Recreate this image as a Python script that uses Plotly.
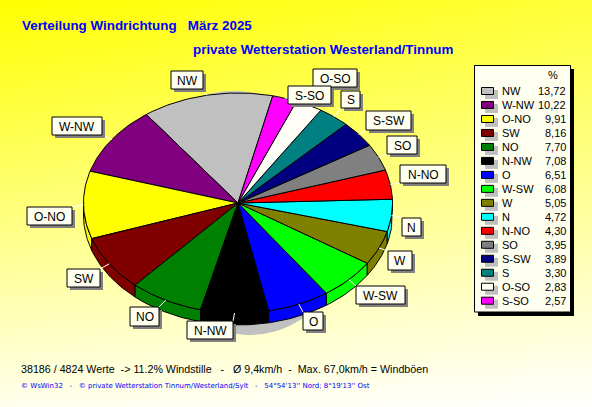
import numpy as np
import plotly.graph_objects as go

names = ["NW","W-NW","O-NO","SW","NO","N-NW","O","W-SW","W","N","N-NO","SO","S-SW","S","O-SO","S-SO"]
values = [13.72,10.22,9.91,8.16,7.70,7.08,6.51,6.08,5.05,4.72,4.30,3.95,3.89,3.30,2.83,2.57]
colors = ["#C0C0C0","#800080","#FFFF00","#800000","#008000","#000000","#0000FF","#00FF00",
          "#808000","#00FFFF","#FF0000","#808080","#000080","#008080","#FFFFF8","#FF00FF"]
title1 = "Verteilung Windrichtung\u00a0\u00a0\u00a0März 2025"
title2 = "private Wetterstation Westerland/Tinnum"
foot1 = "38186 / 4824 Werte\u00a0\u00a0-> 11.2% Windstille\u00a0\u00a0\u00a0-\u00a0\u00a0\u00a0Ø 9,4km/h\u00a0\u00a0-\u00a0\u00a0Max. 67,0km/h = Windböen"
foot2 = "© WsWin32\u00a0\u00a0\u00a0-\u00a0\u00a0\u00a0© private Wetterstation Tinnum/Westerland/Sylt\u00a0\u00a0\u00a0-\u00a0\u00a0\u00a054°54'13'' Nord; 8°19'13'' Ost"

# label box geometry (layout only)
boxes = {
 "NW":(171,71,203,89),"W-NW":(52,117,102,135),"O-NO":(27,207,72,225),"SW":(67,269,100,287),
 "NO":(130,307,159,326),"N-NW":(187,321,233,339),"O-SO":(313,69,357,87),"S-SO":(288,86,331,104),
 "S":(341,91,360,108),"S-SW":(366,111,411,130),"SO":(387,136,417,154),"N-NO":(400,165,446,183),
 "N":(402,218,421,236),"W":(388,251,412,270),"W-SW":(356,286,405,304),"O":(303,312,323,330)}

CX, CY, RX, RY, DEPTH, START = 238, 203, 154.5, 110, 12, 77
W, H = 592, 407

def ex(t): return CX + RX*np.cos(np.radians(t))
def ey(t): return CY - RY*np.sin(np.radians(t))

fig = go.Figure()
# background gradient
fig.add_trace(go.Heatmap(x=[0,W], y=[0,H], z=[[0,0.22],[0.93,1]], zsmooth="best", showscale=False,
    colorscale=[[0,"#FFFF00"],[1,"#FFFFFF"]], zmin=0, zmax=1, hoverinfo="skip"))

# drop shadow: a sliver below the front and above the back of the pie
for sx,sy,srx,sry,a0,a1 in [(250,211,105,124,180,360),(234,203,110,112,0,180)]:
    ts = np.radians(np.linspace(a0,a1,91))
    fig.add_trace(go.Scatter(x=sx+srx*np.cos(ts), y=sy-sry*np.sin(ts), mode="lines", fill="toself",
        fillcolor="#C0C0C0", line=dict(width=0), hoverinfo="skip"))

edges = START + np.concatenate([[0], np.cumsum(values)])*360/sum(values)
# walls
for i,c in enumerate(colors):
    a, b = max(edges[i],180), min(edges[i+1],360)
    if b <= a: continue
    t = np.linspace(a,b,max(3,int(b-a)+2))
    xs = np.concatenate([ex(t), ex(t[::-1])])
    ys = np.concatenate([ey(t), ey(t[::-1])+DEPTH])
    fig.add_trace(go.Scatter(x=np.append(xs,xs[0]), y=np.append(ys,ys[0]), mode="lines", fill="toself",
        fillcolor=c, line=dict(color="black",width=1), hoverinfo="skip"))
# top faces
for i,c in enumerate(colors):
    t = np.linspace(edges[i],edges[i+1],max(3,int(edges[i+1]-edges[i])+2))
    xs = np.concatenate([[CX],ex(t),[CX]])
    ys = np.concatenate([[CY],ey(t),[CY]])
    fig.add_trace(go.Scatter(x=xs, y=ys, mode="lines", fill="toself", fillcolor=c,
        line=dict(color="black",width=1), hoverinfo="skip"))

shapes, ann = [], []
def txt(x,y,s,size=11,color="black",anchor="left",bold=False,fam="Liberation Sans"):
    ann.append(dict(x=x,y=y,xref="x",yref="y",text=f"<b>{s}</b>" if bold else s,showarrow=False,xanchor=anchor,yanchor="middle",
        font=dict(family=fam,size=size,color=color),borderpad=0,borderwidth=0))

# leaders + label boxes
for i,n in enumerate(names):
    x0,y0,x1,y1 = boxes[n]
    mid = (edges[i]+edges[i+1])/2
    px,py = ex(mid),ey(mid)
    qx,qy = min(max(px,x0),x1),min(max(py,y0),y1)
    shapes.append(dict(type="line",x0=px,y0=py,x1=qx,y1=qy,line=dict(color="white",width=1)))
    shapes.append(dict(type="rect",x0=x0+3,y0=y0+3,x1=x1+3,y1=y1+3,fillcolor="#808080",line=dict(width=0)))
    shapes.append(dict(type="rect",x0=x0,y0=y0,x1=x1,y1=y1,fillcolor="#FFFFF0",line=dict(color="black",width=1)))
    txt((x0+x1)/2,(y0+y1)/2+0.5,n,size=12,anchor="center")

# legend panel
shapes.append(dict(type="rect",x0=478,y0=69,x1=574,y1=316,fillcolor="black",line=dict(width=0)))
shapes.append(dict(type="rect",x0=474.5,y0=65.5,x1=570.5,y1=312,fillcolor="#FFFFF0",line=dict(color="black",width=1)))
txt(553,75,"%",anchor="center")
for i,(n,v,c) in enumerate(zip(names,values,colors)):
    y = 91 + i*13.98
    shapes.append(dict(type="rect",x0=485,y0=y-1,x1=498,y1=y+8,fillcolor="#C0C0C0",line=dict(width=0)))
    shapes.append(dict(type="rect",x0=481.5,y0=y-3.5,x1=493.5,y1=y+3.5,fillcolor=c,line=dict(color="black",width=1)))
    txt(502,y,n)
    txt(566,y,f"{v:.2f}".replace(".",","),anchor="right")

txt(22,25,title1,size=13.4,color="#0000FF",bold=True)
txt(193,49,title2,size=13.4,color="#0000FF",bold=True)
txt(21,369,foot1,size=10.7)
txt(21,386,foot2,size=7,color="#0000FF",fam="DejaVu Sans")

fig.update_layout(width=W,height=H,margin=dict(l=0,r=0,t=0,b=0),showlegend=False,
    xaxis=dict(range=[0,W],visible=False,fixedrange=True),
    yaxis=dict(range=[H,0],visible=False,fixedrange=True),
    shapes=shapes,annotations=ann,paper_bgcolor="#FFFFF0",plot_bgcolor="rgba(0,0,0,0)")
fig.write_html("out.html", config={"displayModeBar":False},
    post_script="document.body.style.margin='0';document.body.style.overflow='hidden';")
